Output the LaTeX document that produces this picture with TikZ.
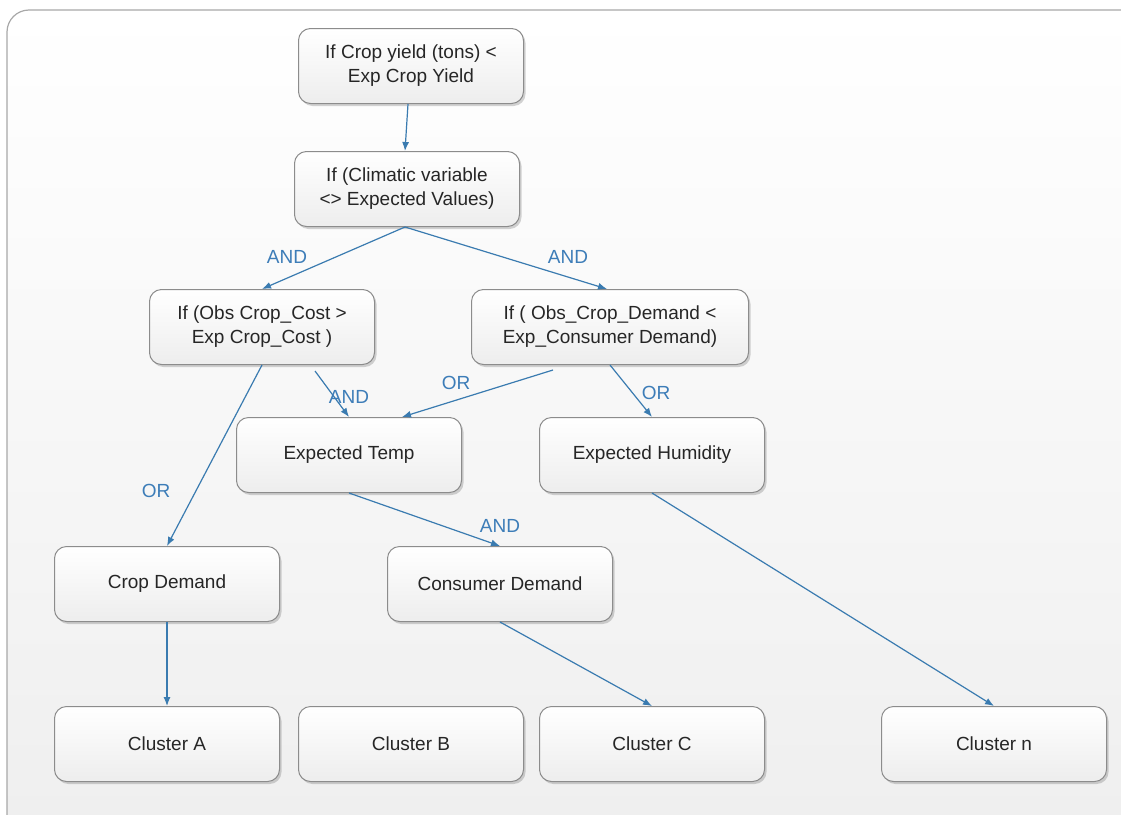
\documentclass[tikz,border=0pt]{standalone}
\usepackage{fontspec}
\setmainfont{Liberation Sans}
\usetikzlibrary{arrows.meta,shadows,calc}
\definecolor{edgeblue}{HTML}{3A7BB0}
\definecolor{lblblue}{HTML}{3D7DB8}
\definecolor{boxborder}{HTML}{8C8C8C}
\definecolor{frameborder}{HTML}{A8A8A8}
\begin{document}
\begin{tikzpicture}[x=1pt,y=-1pt,
  box/.style={draw=boxborder, line width=1pt, rounded corners=12pt,
    top color=white, bottom color=gray!14,
    minimum width=225pt, minimum height=75pt, align=center,
    font=\fontsize{19}{24}\selectfont, text=black!85,
    drop shadow={shadow xshift=2pt, shadow yshift=-2.5pt, opacity=0.35, fill=gray}},
  conn/.style={draw=edgeblue, line width=1.2pt, -{Latex[length=9pt,width=7pt]}},
  lbl/.style={text=lblblue, font=\fontsize{19}{22}\selectfont}
]
\useasboundingbox (0,0) rectangle (1121,814);
\draw[draw=frameborder, line width=1.2pt, rounded corners=22pt, top color=white, bottom color=gray!13] (7,10) rectangle (1160,850);

\node[box] (n1) at (411,66) {If Crop yield (tons) <\\Exp Crop Yield};
\node[box] (n2) at (407,189) {If (Climatic variable\\<> Expected Values)};
\node[box] (n3) at (262,327) {If (Obs Crop\_Cost >\\Exp Crop\_Cost )};
\node[box, minimum width=277pt] (n4) at (610,327) {If ( Obs\_Crop\_Demand <\\Exp\_Consumer Demand)};
\node[box] (n5) at (349,455) {Expected Temp};
\node[box] (n6) at (652,455) {Expected Humidity};
\node[box] (n7) at (167,584) {Crop Demand};
\node[box] (n8) at (500,584) {Consumer Demand};
\node[box] (ca) at (167,744) {Cluster A};
\node[box] (cb) at (411,744) {Cluster B};
\node[box] (cc) at (652,744) {Cluster C};
\node[box] (cn) at (994,744) {Cluster n};

\draw[conn] ([xshift=-3pt]n1.south) -- ([xshift=-2pt]n2.north);
\draw[conn] ([xshift=-2pt]n2.south) -- (n3.north);
\draw[conn] ([xshift=-2pt]n2.south) -- ([xshift=-3pt]n4.north);
\draw[conn] (n3.south) -- (n7.north);
\draw[conn] ([xshift=53pt,yshift=-6pt]n3.south) -- (n5.north);
\draw[conn] ([xshift=-57pt,yshift=-5pt]n4.south) -- ([xshift=53pt]n5.north);
\draw[conn] (n4.south) -- (n6.north);
\draw[conn] (n5.south) -- (n8.north);
\draw[conn] (n7.south) -- (ca.north);
\draw[conn] (n8.south) -- (cc.north);
\draw[conn] (n6.south) -- (cn.north);

\node[lbl] (l1) at (287,257) {AND};
\node[lbl] (l2) at (568,257) {AND};
\node[lbl] (l3) at (156,491) {OR};
\node[lbl] (l4) at (349,397) {AND};
\node[lbl] (l5) at (456,383) {OR};
\node[lbl] (l6) at (656,393) {OR};
\node[lbl] (l7) at (500,526) {AND};
\end{tikzpicture}
\end{document}
